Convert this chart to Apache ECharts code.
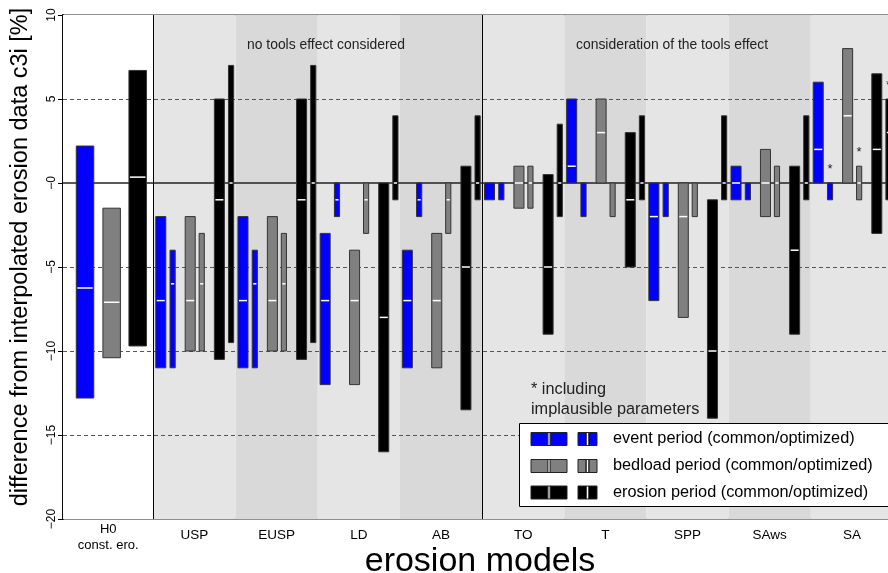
<!DOCTYPE html>
<html>
<head>
<meta charset="utf-8">
<script src="https://cdn.jsdelivr.net/npm/echarts@6/dist/echarts.min.js"></script>
<style>
  html, body { margin: 0; padding: 0; background: #fff; }
  #chart { width: 888px; height: 573px; }
</style>
</head>
<body>
<div id="chart"></div>
<script>
// erosion models (after the H0 reference group)
const h0Label = 'H0';
const h0Sub = 'const. ero.';
const models = ['USP', 'EUSP', 'LD', 'AB', 'TO', 'T', 'SPP', 'SAws', 'SA'];
const implausible = [false, false, false, false, false, false, false, false, true];

// H0 const. ero. : [low, high, median]
const h0Event = [-12.8, 2.2, -6.25];
const h0Bedload = [-10.4, -1.5, -7.1];
const h0Erosion = [-9.7, 6.7, 0.35];

// per model: [low, high, median]  (null = median not visible)
const eventCommon = [[-11, -2, -7], [-11, -2, -7], [-12, -3, -7], [-11, -4, -7], [-1, 0, null], [0, 5, 1], [-7, 0, -2], [-1, 1, 0], [0, 6, 2]];
const eventOpt = [[-11, -4, -6], [-11, -4, -6], [-2, 0, -1], [-2, 0, -1], [-1, 0, null], [-2, 0, null], [-2, 0, null], [-1, 0, null], [-1, 0, null]];
const bedloadCommon = [[-10, -2, -7], [-10, -2, -7], [-12, -4, -7], [-11, -3, -7], [-1.5, 1, 0], [0, 5, 3], [-8, 0, -2], [-2, 2, 0], [0, 8, 4]];
const bedloadOpt = [[-10, -3, -6], [-10, -3, -6], [-3, 0, -1], [-3, 0, -1], [-1.5, 1, 0], [-2, 0, null], [-2, 0, null], [-2, 1, 0], [-1, 1, 0]];
const erosionCommon = [[-10.5, 5, -1], [-10.5, 5, -1], [-16, 0, -8], [-13.5, 1, -5], [-9, 0.5, -5], [-5, 3, -1], [-14, -1, -10], [-9, 1, -4], [-3, 6.5, 2]];
const erosionOpt = [[-9.5, 7, 0], [-9.5, 7, 0], [-1, 4, 0], [-1, 4, 0], [-2, 3.5, 0], [-1, 4, 0], [-1, 4, 0], [-1, 4, 0], [-1, 5, 3]];

const dashedLevels = [5, -5, -10, -15];

const H0_W = 1.1;           // width of the H0 group in model-group units
const X_MAX = H0_W + models.length;
const BLUE = '#0000ff', GREY = '#808080', BLACK = '#000000';
const WIDE = 0.122, NARROW = 0.063;

const chart = echarts.init(document.getElementById('chart'));

function rangeBars(name, items, color, width) {
  return {
    type: 'custom',
    name: name,
    z: 5,
    data: items,
    encode: { x: 0, y: [1, 2] },
    renderItem: function (params, api) {
      const x = api.value(0), lo = api.value(1), hi = api.value(2);
      const med = api.value(3), star = api.value(4);
      const p0 = api.coord([x - width / 2, hi]);
      const p1 = api.coord([x + width / 2, lo]);
      const children = [{
        type: 'rect',
        shape: { x: p0[0], y: p0[1], width: p1[0] - p0[0], height: p1[1] - p0[1] },
        style: { fill: color, stroke: '#333', lineWidth: 1 }
      }];
      if (!isNaN(med)) {
        const m = api.coord([x, med]);
        children.push({
          type: 'line',
          shape: { x1: p0[0] + 1, y1: m[1], x2: p1[0] - 1, y2: m[1] },
          style: { stroke: '#fff', lineWidth: 1.5 }
        });
      }
      if (star === 1) {
        const s = api.coord([x, hi + 1]);
        children.push({
          type: 'text',
          style: { text: '*', x: s[0], y: s[1] + 3, align: 'center', verticalAlign: 'middle',
                   fill: '#222', font: '13px "Liberation Sans", Arial, sans-serif' }
        });
      }
      return { type: 'group', children: children };
    }
  };
}

function modelItems(arr, offset, starred) {
  return arr.map((d, i) => [H0_W + i + offset, d[0], d[1], d[2] == null ? NaN : d[2],
    starred && implausible[i] ? 1 : 0]);
}

const bandData = [[0, H0_W, '#ffffff']].concat(models.map((m, i) =>
  [H0_W + i, H0_W + i + 1, i % 2 === 0 ? '#e5e5e5' : '#d9d9d9']));

const labelValues = [H0_W / 2].concat(models.map((m, i) => H0_W + i + 0.5));
const labelTexts = [h0Label].concat(models);

const font = '"Liberation Sans", Arial, sans-serif';

const option = {
  animation: false,
  textStyle: { fontFamily: font },
  grid: {
    left: 63, right: -5, top: 15, bottom: 54,
    containLabel: false, outerBoundsMode: 'none',
    show: true, borderColor: '#222', borderWidth: 1.2
  },
  xAxis: {
    type: 'value',
    min: 0,
    max: X_MAX,
    axisLine: { show: true, lineStyle: { color: '#000', width: 1.8 } },
    axisTick: { show: false },
    splitLine: { show: false },
    axisLabel: {
      customValues: labelValues,
      margin: 2,
      color: '#000',
      formatter: function (v) {
        const i = labelValues.findIndex(l => Math.abs(l - v) < 1e-6);
        if (i === 0) return '{a|' + h0Label + '}\n{a|' + h0Sub + '}';
        return '{b|' + labelTexts[i] + '}';
      },
      rich: {
        a: { fontSize: 13, lineHeight: 16, fontFamily: font, color: '#000' },
        b: { fontSize: 13.5, lineHeight: 16, padding: [13, 0, 0, 0], fontFamily: font, color: '#000' }
      }
    }
  },
  yAxis: {
    type: 'value',
    min: -20,
    max: 10,
    interval: 5,
    axisLine: { show: true, lineStyle: { color: '#000', width: 1.8 } },
    axisTick: { show: true, length: 5, lineStyle: { color: '#000' } },
    splitLine: { show: false },
    axisLabel: {
      rotate: 90,
      margin: 5,
      fontSize: 12,
      color: '#000',
      formatter: function (v) {
        if (v === 0) return '\u22120';
        return v < 0 ? '\u2212' + Math.abs(v) : String(v);
      }
    }
  },
  series: [
    {
      type: 'custom',
      name: 'bands',
      z: 1,
      silent: true,
      data: bandData,
      encode: { x: [0, 1] },
      renderItem: function (params, api) {
        const a = api.coord([api.value(0), 10]);
        const b = api.coord([api.value(1), -20]);
        return {
          type: 'rect',
          shape: { x: a[0], y: a[1], width: b[0] - a[0], height: b[1] - a[1] },
          style: { fill: bandData[params.dataIndex][2] }
        };
      }
    },
    {
      type: 'line',
      name: 'guides',
      z: 3,
      data: [],
      markLine: {
        silent: true,
        symbol: 'none',
        label: { show: false },
        data: dashedLevels.map(v => ({ yAxis: v, lineStyle: { type: [4, 3], color: '#555', width: 1 } }))
          .concat([
            { yAxis: 0, lineStyle: { type: 'solid', color: '#222', width: 1.5 } },
            { xAxis: H0_W, lineStyle: { type: 'solid', color: '#000', width: 1 } },
            { xAxis: H0_W + 4, lineStyle: { type: 'solid', color: '#000', width: 1 } }
          ])
      }
    },
    rangeBars('H0 event', [[0.268].concat(h0Event, [0])], BLUE, 0.213),
    rangeBars('H0 bedload', [[0.592].concat(h0Bedload, [0])], GREY, 0.213),
    rangeBars('H0 erosion', [[0.909].concat(h0Erosion, [0])], BLACK, 0.213),
    rangeBars('event common', modelItems(eventCommon, 0.090, false), BLUE, WIDE),
    rangeBars('event optimized', modelItems(eventOpt, 0.234, true), BLUE, NARROW),
    rangeBars('bedload common', modelItems(bedloadCommon, 0.448, false), GREY, WIDE),
    rangeBars('bedload optimized', modelItems(bedloadOpt, 0.588, true), GREY, NARROW),
    rangeBars('erosion common', modelItems(erosionCommon, 0.803, false), BLACK, WIDE),
    rangeBars('erosion optimized', modelItems(erosionOpt, 0.945, true), BLACK, NARROW)
  ],
  graphic: [
    // axis titles
    { type: 'text', x: 21, y: 257, rotation: Math.PI / 2, z: 10,
      style: { text: 'difference from interpolated erosion data c3i [%]', font: '23.5px ' + font,
               fill: '#000', align: 'center', verticalAlign: 'middle' } },
    { type: 'text', x: 480, y: 562, z: 10,
      style: { text: 'erosion models', font: '34px ' + font, fill: '#000',
               align: 'center', verticalAlign: 'middle' } },
    // annotations
    { type: 'text', left: 247, top: 38, z: 10,
      style: { text: 'no tools effect considered', font: '13.9px ' + font, fill: '#222' } },
    { type: 'text', left: 576, top: 38, z: 10,
      style: { text: 'consideration of the tools effect', font: '13.9px ' + font, fill: '#222' } },
    { type: 'text', left: 531, top: 380, z: 10,
      style: { text: '* including\nimplausible parameters', font: '16.3px ' + font, fill: '#222', lineHeight: 19.5 } },
    { type: 'rect', z: 10, shape: { x: 519.5, y: 423.5, width: 400, height: 83 },
      style: { fill: '#fff', stroke: '#000', lineWidth: 1 } }
  ]
};

// legend rows drawn as graphic elements
const legendRows = [
  { color: BLUE, text: 'event period (common/optimized)', y: 439 },
  { color: GREY, text: 'bedload period (common/optimized)', y: 466 },
  { color: BLACK, text: 'erosion period (common/optimized)', y: 492.5 }
];
legendRows.forEach(r => {
  option.graphic.push(
    { type: 'rect', z: 11, shape: { x: 531, y: r.y - 6.5, width: 36, height: 13 },
      style: { fill: r.color, stroke: '#222', lineWidth: 1 } },
    { type: 'line', z: 12, shape: { x1: 549, y1: r.y - 6, x2: 549, y2: r.y + 6 },
      style: { stroke: '#333', lineWidth: 3.5 } },
    { type: 'line', z: 13, shape: { x1: 549, y1: r.y - 6, x2: 549, y2: r.y + 6 },
      style: { stroke: '#aaa', lineWidth: 1.8 } },
    { type: 'rect', z: 11, shape: { x: 578, y: r.y - 6.5, width: 19, height: 13 },
      style: { fill: r.color, stroke: '#222', lineWidth: 1 } },
    { type: 'line', z: 12, shape: { x1: 587.5, y1: r.y - 6, x2: 587.5, y2: r.y + 6 },
      style: { stroke: '#000', lineWidth: 4 } },
    { type: 'line', z: 13, shape: { x1: 587.5, y1: r.y - 6, x2: 587.5, y2: r.y + 6 },
      style: { stroke: '#fff', lineWidth: 1.6 } },
    { type: 'text', z: 11, x: 613, y: r.y,
      style: { text: r.text, font: '16.3px ' + font, fill: '#000', verticalAlign: 'middle' } }
  );
});

chart.setOption(option);
window.addEventListener('resize', () => chart.resize());
</script>
</body>
</html>
